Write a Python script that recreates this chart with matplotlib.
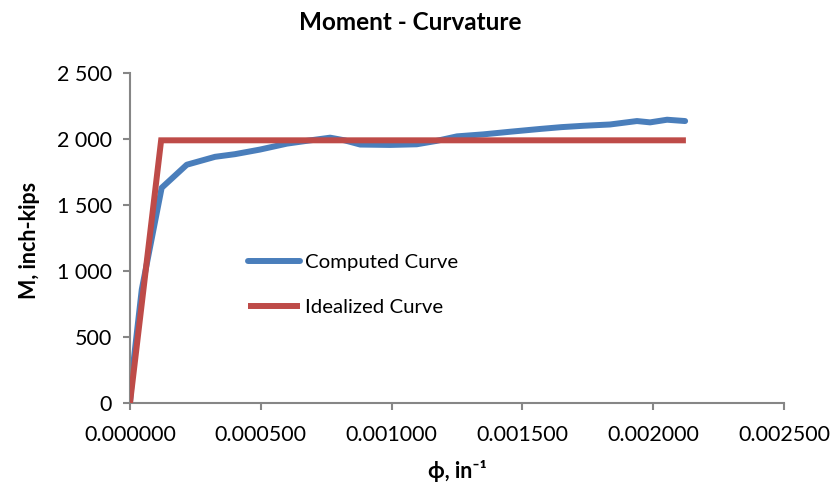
import matplotlib
matplotlib.use("Agg")
import matplotlib.pyplot as plt
from matplotlib.ticker import FuncFormatter, MultipleLocator

plt.rcParams['font.family'] = ['Lato', 'DejaVu Sans']

# Computed curve (curvature, moment)
comp_phi = [0.0, 0.000010, 0.000045, 0.000121, 0.000217, 0.000325, 0.000401,
            0.000497, 0.000600, 0.000690, 0.000765, 0.000820, 0.000880,
            0.000994, 0.001096, 0.001170, 0.001250, 0.001350, 0.001453,
            0.001567, 0.001650, 0.001732, 0.001835, 0.001938, 0.001988,
            0.002053, 0.002122]
comp_m = [0, 250, 860, 1630, 1805, 1865, 1885,
          1920, 1965, 1990, 2010, 1990, 1958,
          1955, 1960, 1985, 2020, 2035, 2055,
          2076, 2090, 2100, 2110, 2136, 2126,
          2146, 2136]

# Idealized bilinear curve
ideal_phi = [0.0, 0.000119, 0.002125]
ideal_m = [0, 1990, 1990]

title = "Moment - Curvature"
xlabel = "ϕ, in⁻¹"
ylabel = "M, inch-kips"

fig = plt.figure(figsize=(8.38, 4.95), dpi=100)
W, H = 838, 495
ax = fig.add_axes([130 / W, 1 - 403 / H, (784 - 130) / W, (403 - 73) / H])

blue = "#4A7EBB"
red = "#BE4B48"
ax.plot(comp_phi, comp_m, color=blue, lw=4.3, solid_capstyle='round',
        solid_joinstyle='round', label="Computed Curve", zorder=2)
ax.plot(ideal_phi, ideal_m, color=red, lw=4.3, solid_capstyle='butt',
        solid_joinstyle='miter', label="Idealized Curve", zorder=3)

ax.set_xlim(0, 0.0025)
ax.set_ylim(0, 2500)
ax.xaxis.set_major_locator(MultipleLocator(0.0005))
ax.yaxis.set_major_locator(MultipleLocator(500))
ax.xaxis.set_major_formatter(FuncFormatter(lambda v, p: f"{v:.6f}"))
ax.yaxis.set_major_formatter(FuncFormatter(lambda v, p: f"{int(round(v)):,}".replace(",", " ")))

gray = "#868686"
for s in ['top', 'right']:
    ax.spines[s].set_visible(False)
for s in ['left', 'bottom']:
    ax.spines[s].set_color(gray)
    ax.spines[s].set_linewidth(1.5)
ax.tick_params(axis='both', direction='out', length=5, width=1.5, color=gray,
               labelsize=15.5, labelcolor='black')
ax.tick_params(axis='x', pad=11)
ax.tick_params(axis='y', pad=8)

fig.text(0.489, 1 - 23 / H, title, ha='center', va='center', fontsize=17.5,
         fontweight='bold')
fig.text(457 / W, 1 - 471 / H, xlabel, ha='center', va='center', fontsize=15.5,
         fontweight='bold')
fig.text(30 / W, 1 - 240 / H, ylabel, ha='center', va='center', fontsize=15.5,
         fontweight='bold', rotation=90)

leg = ax.legend(loc='upper left', bbox_to_anchor=(248 / W, 1 - 254 / H),
                bbox_transform=fig.transFigure, frameon=False, fontsize=14.7,
                handlelength=2.55, handletextpad=0.25, labelspacing=1.35,
                borderpad=0, borderaxespad=0)

fig.savefig("out.png", dpi=100)
